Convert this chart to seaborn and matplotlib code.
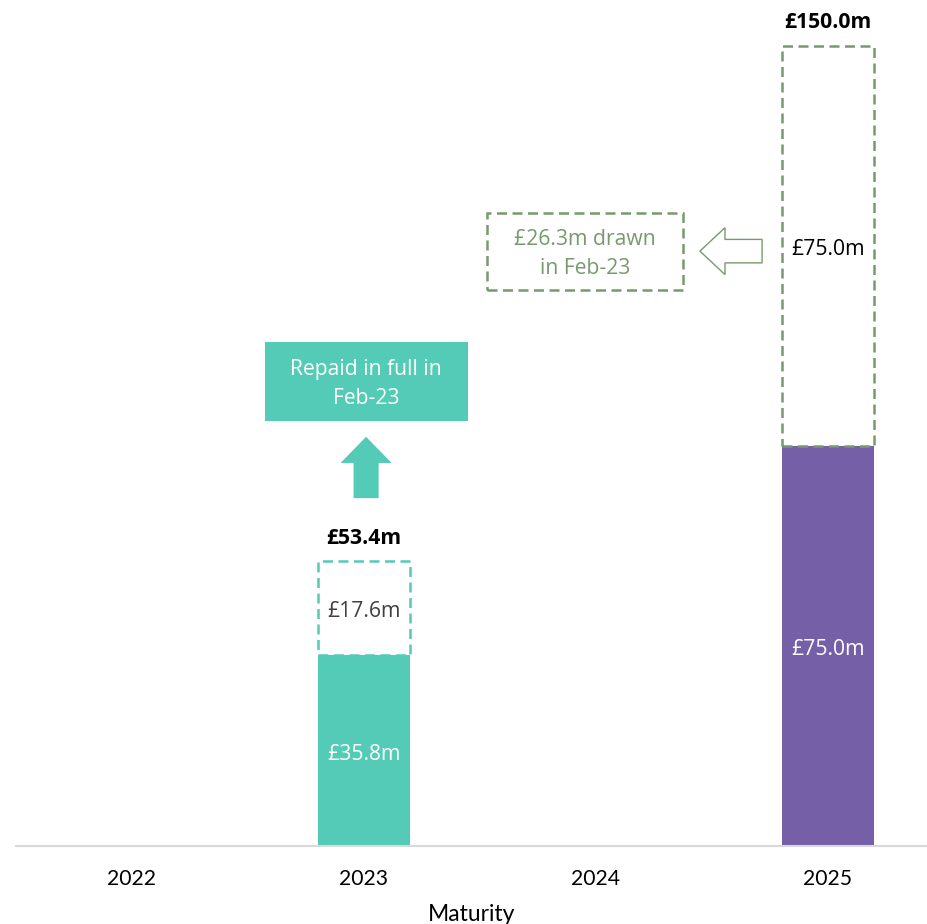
import matplotlib
matplotlib.use("Agg")
import matplotlib.pyplot as plt
import seaborn as sns
import pandas as pd
from matplotlib.patches import Rectangle, Polygon

# Facility maturities (£m)
years = ["2022", "2023", "2024", "2025"]
drawn = [0.0, 35.8, 0.0, 75.0]
undrawn = [0.0, 17.6, 0.0, 75.0]
drawn_colors = ["#53CBB7", "#53CBB7", "#53CBB7", "#7560A8"]
undrawn_edges = ["#53CBB7", "#53CBB7", "#53CBB7", "#779A6D"]
undrawn_text = ["#404040", "#404040", "#404040", "#000000"]

TEAL = "#53CBB7"
GREEN = "#779A6D"
FS = 15.2
VOFF = 0.7  # nudges centred labels down to the optical centre

sns.set_theme(style="white")
plt.rcParams["font.family"] = ["Open Sans", "DejaVu Sans"]

df = pd.DataFrame({"year": years, "drawn": drawn})

fig = plt.figure(figsize=(9.28, 9.24), dpi=100)
ax = fig.add_axes([16 / 928, 78 / 924, 912 / 928, 846 / 924])

sns.barplot(data=df, x="year", y="drawn", hue="year", palette=drawn_colors,
            width=0.4, legend=False, ax=ax, saturation=1, edgecolor="none")

# Undrawn portions as dashed outlines stacked on top of the drawn amounts
for i, (d, u) in enumerate(zip(drawn, undrawn)):
    if u <= 0:
        continue
    ax.bar(i, u, bottom=d, width=0.4, fill=False, edgecolor=undrawn_edges[i],
           linewidth=1.8, linestyle=(0, (4, 2.2)))
    ax.text(i, d + u / 2 - VOFF, f"£{u:.1f}m", ha="center", va="center",
            fontsize=FS, color=undrawn_text[i])
    ax.text(i, d / 2 - VOFF, f"£{d:.1f}m", ha="center", va="center",
            fontsize=FS, color="white")
    ax.text(i, d + u + 4.3, f"£{d + u:.1f}m", ha="center", va="center",
            fontsize=FS, fontweight="bold", color="black")

ax.set_xlim(-0.5, -0.5 + 912 / 232)
ax.set_ylim(0, 846 / 5.335)

# Repaid callout with upward arrow
ax.add_patch(Rectangle((0.573, 79.7), 0.875, 14.8, facecolor=TEAL,
                       edgecolor="none", zorder=3))
ax.text(1.01, 86.6, "Repaid in full in\nFeb-23", ha="center", va="center",
        fontsize=FS, color="white", linespacing=1.48, zorder=4)
ax.add_patch(Polygon([(1.009, 76.7), (1.119, 71.8), (1.063, 71.8),
                      (1.063, 65.2), (0.955, 65.2), (0.955, 71.8),
                      (0.899, 71.8)], closed=True, facecolor=TEAL,
                     edgecolor="none", zorder=3))

# Drawn-down callout with hollow left arrow
ax.add_patch(Rectangle((1.530, 104.2), 0.845, 14.4, fill=False,
                       edgecolor=GREEN, linewidth=1.8,
                       linestyle=(0, (4, 2.2)), zorder=3))
ax.text(1.952, 111.0, "£26.3m drawn\nin Feb-23", ha="center", va="center",
        fontsize=FS, color=GREEN, linespacing=1.5, zorder=4)
ax.add_patch(Polygon([(2.448, 111.5), (2.556, 115.9), (2.556, 113.7),
                      (2.716, 113.7), (2.716, 109.3), (2.556, 109.3),
                      (2.556, 107.1)], closed=True, fill=False,
                     edgecolor=GREEN, linewidth=1.0, zorder=3))

ax.set_yticks([])
ax.set_ylabel("")
ax.set_xlabel("Maturity", fontsize=16.5, family=["Lato", "DejaVu Sans"],
              color="black", labelpad=11)
ax.tick_params(axis="x", length=0, pad=16.5, labelsize=15.2)
for lab in ax.get_xticklabels():
    lab.set_family(["Lato", "DejaVu Sans"])
    lab.set_color("black")

for side in ["top", "right", "left"]:
    ax.spines[side].set_visible(False)
ax.spines["bottom"].set_color("#D9D9D9")
ax.spines["bottom"].set_linewidth(1.5)

fig.savefig("out.png", dpi=100)
